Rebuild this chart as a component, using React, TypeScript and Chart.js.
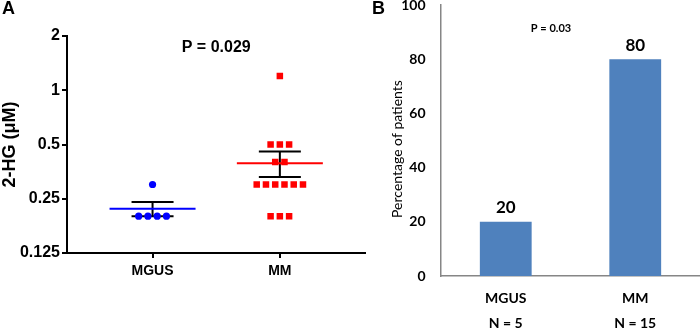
import React, { useEffect, useRef } from "react";
import { Chart, registerables } from "chart.js";

Chart.register(...registerables);

// ---------- Panel A data ----------
const groupLabels = ["MGUS", "MM"];
const mgusValues = [0.2, 0.2, 0.2, 0.2, 0.3];
const mmValues = [1.2, 0.5, 0.5, 0.5, 0.4, 0.4, 0.3, 0.3, 0.3, 0.3, 0.3, 0.3, 0.2, 0.2, 0.2];
const groupMeans = [0.22, 0.394];
const groupSemUpper = [0.24, 0.457];
const groupSemLower = [0.2, 0.33];
const yTickValuesA = [0.125, 0.25, 0.5, 1, 2];
const yTickLabelsA = ["0.125", "0.25", "0.5", "1", "2"];
const yTitleA = "2-HG (μM)";
const pValueA = "P = 0.029";

// ---------- Panel B data ----------
const barCategories = ["MGUS", "MM"];
const barSampleSizes = ["N = 5", "N = 15"];
const barPercentages = [20, 80];
const yTickValuesB = [0, 20, 40, 60, 80, 100];
const yTitleB = "Percentage of patients";
const pValueB = "P = 0.03";

const ARIAL = "'Liberation Sans', Arial, sans-serif";
const CALIBRI = "Lato, 'Open Sans', sans-serif";
const groupColors = ["#0000ff", "#ff0000"];

// simple beeswarm-like placement: identical values are spread side by side
function swarm(values: number[], center: number, step: number) {
  const counts = new Map<number, number>();
  values.forEach((v) => counts.set(v, (counts.get(v) || 0) + 1));
  const seen = new Map<number, number>();
  return values.map((v) => {
    const n = counts.get(v) as number;
    const i = seen.get(v) || 0;
    seen.set(v, i + 1);
    return { x: center + (i - (n - 1) / 2) * step, y: v };
  });
}

const panelAPlugin = {
  id: "panelA",
  beforeDatasetsDraw(chart: any) {
    const { ctx, scales } = chart;
    const x = scales.x;
    const y = scales.y;
    ctx.save();
    ctx.lineWidth = 2;
    groupMeans.forEach((m: number, i: number) => {
      const cx = x.getPixelForValue(i + 1);
      const yt = y.getPixelForValue(groupSemUpper[i]);
      const yb = y.getPixelForValue(groupSemLower[i]);
      const ym = y.getPixelForValue(m);
      ctx.strokeStyle = "#000";
      ctx.beginPath();
      ctx.moveTo(cx, yt);
      ctx.lineTo(cx, yb);
      ctx.moveTo(cx - 21, yt);
      ctx.lineTo(cx + 21, yt);
      ctx.moveTo(cx - 21, yb);
      ctx.lineTo(cx + 21, yb);
      ctx.stroke();
      ctx.strokeStyle = groupColors[i];
      ctx.beginPath();
      ctx.moveTo(cx - 43, ym);
      ctx.lineTo(cx + 43, ym);
      ctx.stroke();
    });
    ctx.restore();
  },
  afterDraw(chart: any) {
    const { ctx, scales } = chart;
    ctx.save();
    ctx.fillStyle = "#000";
    ctx.textAlign = "left";
    ctx.textBaseline = "middle";
    ctx.font = `bold 18px ${ARIAL}`;
    ctx.fillText("A", 2, 9);
    ctx.textAlign = "center";
    ctx.font = `bold 16px ${ARIAL}`;
    ctx.fillText(pValueA, scales.x.getPixelForValue(1.5), 48);
    ctx.restore();
  },
};

const panelBPlugin = {
  id: "panelB",
  afterDraw(chart: any) {
    const { ctx } = chart;
    ctx.save();
    ctx.fillStyle = "#000";
    ctx.textBaseline = "middle";
    ctx.textAlign = "left";
    ctx.font = `bold 18px ${ARIAL}`;
    ctx.fillText("B", 2, 9);
    ctx.textAlign = "center";
    ctx.font = `bold 11px ${CALIBRI}`;
    ctx.fillText(pValueB, 181, 28);
    // value labels above bars
    ctx.font = `bold 17px ${CALIBRI}`;
    const meta = chart.getDatasetMeta(0);
    meta.data.forEach((bar: any, i: number) => {
      ctx.fillText(String(barPercentages[i]), bar.x, bar.y - 14);
    });
    // y title
    ctx.translate(27, 149);
    ctx.rotate(-Math.PI / 2);
    ctx.font = `14px ${CALIBRI}`;
    ctx.fillText(yTitleB, 0, 0);
    ctx.restore();
  },
};

export default function App() {
  const refA = useRef<HTMLCanvasElement | null>(null);
  const refB = useRef<HTMLCanvasElement | null>(null);

  useEffect(() => {
    const step = 0.0727;
    const chartA = new Chart(refA.current as HTMLCanvasElement, {
      type: "scatter",
      data: {
        datasets: [
          {
            label: groupLabels[0],
            data: swarm(mgusValues, 1, step),
            pointStyle: "circle",
            pointRadius: 3.6,
            backgroundColor: groupColors[0],
            borderWidth: 0,
          },
          {
            label: groupLabels[1],
            data: swarm(mmValues, 2, step),
            pointStyle: "rect",
            pointRadius: 4.6,
            backgroundColor: groupColors[1],
            borderWidth: 0,
          },
        ],
      },
      options: {
        responsive: false,
        animation: false,
        layout: { padding: { top: 36, right: 3, left: 0, bottom: 0 } },
        plugins: { legend: { display: false }, tooltip: { enabled: false } },
        scales: {
          x: {
            type: "linear",
            min: 0.328,
            max: 2.672,
            afterBuildTicks: (s: any) => {
              s.ticks = [{ value: 1 }, { value: 2 }];
            },
            afterFit: (s: any) => {
              s.height = 77;
              s.paddingLeft = 0;
              s.paddingRight = 0;
            },
            ticks: {
              callback: (v: any) => groupLabels[Math.round(Number(v)) - 1] ?? "",
              font: { family: ARIAL, size: 14, weight: "bold" },
              color: "#000",
              padding: 5,
              maxRotation: 0,
              autoSkip: false,
            },
            grid: { drawOnChartArea: false, drawTicks: true, tickLength: 5, color: "#000", lineWidth: 2 },
            border: { display: true, color: "#000", width: 2 },
          },
          y: {
            type: "logarithmic",
            min: 0.125,
            max: 2,
            afterBuildTicks: (s: any) => {
              s.ticks = yTickValuesA.map((v) => ({ value: v }));
            },
            afterFit: (s: any) => {
              s.width = 67;
              s.paddingTop = 0;
              s.paddingBottom = 0;
            },
            ticks: {
              callback: (v: any) => {
                const i = yTickValuesA.indexOf(Number(v));
                return i >= 0 ? yTickLabelsA[i] : "";
              },
              font: { family: ARIAL, size: 16, weight: "bold" },
              color: "#000",
              padding: 2,
              autoSkip: false,
            },
            grid: { drawOnChartArea: false, drawTicks: true, tickLength: 5, color: "#000", lineWidth: 2 },
            border: { display: true, color: "#000", width: 2 },
            title: {
              display: true,
              text: yTitleA,
              color: "#000",
              font: { family: ARIAL, size: 18, weight: "bold", lineHeight: 1 },
              padding: { top: 1, bottom: 0 },
            },
          },
        },
      } as any,
      plugins: [panelAPlugin],
    });

    const chartB = new Chart(refB.current as HTMLCanvasElement, {
      type: "bar",
      data: {
        labels: barCategories.map((c, i) => [c, barSampleSizes[i]]),
        datasets: [
          {
            data: barPercentages,
            backgroundColor: "#4f81bd",
            barPercentage: 0.4,
            categoryPercentage: 1,
          },
        ],
      },
      options: {
        responsive: false,
        animation: false,
        layout: { padding: { top: 5, right: 0, left: 0, bottom: 0 } },
        plugins: { legend: { display: false }, tooltip: { enabled: false } },
        scales: {
          x: {
            afterFit: (s: any) => {
              s.height = 54;
              s.paddingLeft = 0;
              s.paddingRight = 0;
            },
            grid: { display: false, drawTicks: false },
            border: { display: true, color: "#868686", width: 1.5 },
            ticks: {
              font: { family: CALIBRI, size: 14, weight: "bold", lineHeight: "25px" },
              color: "#000",
              padding: 9.5,
              maxRotation: 0,
              autoSkip: false,
            },
          },
          y: {
            min: 0,
            max: 100,
            afterBuildTicks: (s: any) => {
              s.ticks = yTickValuesB.map((v) => ({ value: v }));
            },
            afterFit: (s: any) => {
              s.width = 71;
              s.paddingTop = 0;
              s.paddingBottom = 0;
            },
            grid: { display: false, drawTicks: false },
            border: { display: true, color: "#868686", width: 1.5 },
            ticks: {
              font: { family: CALIBRI, size: 14, weight: "bold" },
              color: "#000",
              padding: 15.5,
            },
          },
        },
      } as any,
      plugins: [panelBPlugin],
    });

    return () => {
      chartA.destroy();
      chartB.destroy();
    };
  }, []);

  return (
    <div style={{ position: "absolute", left: 0, top: 0, width: 700, height: 330, background: "#fff" }}>
      <canvas ref={refA} width={370} height={330} style={{ position: "absolute", left: 0, top: 0 }} />
      <canvas ref={refB} width={330} height={330} style={{ position: "absolute", left: 370, top: 0 }} />
    </div>
  );
}
